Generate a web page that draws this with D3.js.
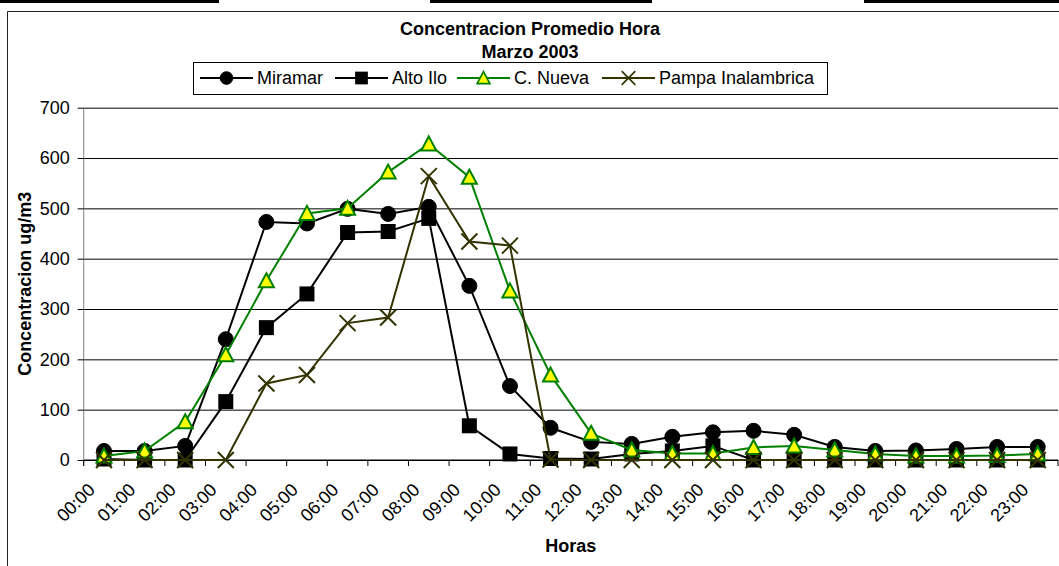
<!DOCTYPE html>
<html>
<head>
<meta charset="utf-8">
<script src="https://cdn.jsdelivr.net/npm/d3@7"></script>
<style>
  html, body { margin: 0; padding: 0; background: #fff; }
  svg { display: block; font-family: "Liberation Sans", Arial, sans-serif; }
</style>
</head>
<body>
<svg id="chart" width="1059" height="566"></svg>
<script>
// Hourly concentration values
const hours = ['00:00','01:00','02:00','03:00','04:00','05:00','06:00','07:00','08:00','09:00','10:00','11:00',
               '12:00','13:00','14:00','15:00','16:00','17:00','18:00','19:00','20:00','21:00','22:00','23:00'];
const miramar = [18, 18, 28, 240, 473, 470, 499, 489, 503, 346, 147, 64, 36, 32, 46, 55, 58, 50, 26, 18, 19, 22, 26, 26];
const altoIlo = [2, 0, 0, 116, 263, 330, 452, 454, 480, 68, 12, 3, 2, 12, 18, 28, 0, 0, 0, 0, 0, 0, 0, 0];
const cNueva = [8, 18, 76, 209, 356, 490, 500, 572, 628, 562, 336, 169, 53, 20, 13, 13, 25, 28, 20, 12, 8, 8, 9, 12];
const pampa = [0, 0, 0, 0, 152, 169, 272, 283, 564, 434, 426, 1, 0, 0, 0, 0, 0, 0, 0, 0, 0, 0, 0, 0];
const yTicks = [0, 100, 200, 300, 400, 500, 600, 700];
const seriesNames = ['Miramar', 'Alto Ilo', 'C. Nueva', 'Pampa Inalambrica'];

const series = [
  { name: seriesNames[0], values: miramar, color: '#000000', marker: 'circle' },
  { name: seriesNames[1], values: altoIlo, color: '#000000', marker: 'square' },
  { name: seriesNames[2], values: cNueva, color: '#008000', marker: 'triangle' },
  { name: seriesNames[3], values: pampa, color: '#333300', marker: 'cross' }
];

const svg = d3.select('#chart');
const plotLeft = 83.7, plotRight = 1058, plotTop = 107.7, plotBottom = 460;

// page decorations: bars at the very top and the chart frame
[[0, 219], [430, 652], [864, 1059]].forEach(([a, b]) => {
  svg.append('rect').attr('x', a).attr('y', 0).attr('width', b - a).attr('height', 3).attr('fill', '#000');
});
svg.append('path')
  .attr('d', 'M7.5,566V11.5H1059')
  .attr('fill', 'none')
  .attr('stroke', '#222')
  .attr('stroke-width', 1);

const x = d3.scaleBand().domain(hours).range([plotLeft, plotRight]);
const y = d3.scaleLinear().domain([0, 700]).range([plotBottom, plotTop]);
const cx = h => x(h) + x.bandwidth() / 2;

// gridlines
svg.append('g')
  .attr('transform', `translate(${plotLeft},0)`)
  .call(d3.axisLeft(y).tickValues(yTicks).tickSize(-(plotRight - plotLeft)).tickFormat(''))
  .call(g => g.select('.domain').remove())
  .call(g => g.selectAll('line').attr('stroke', '#000').attr('stroke-width', 1));

// y axis
const yAxis = svg.append('g')
  .attr('transform', `translate(${plotLeft},0)`)
  .call(d3.axisLeft(y).tickValues(yTicks).tickSize(6).tickPadding(8))
  .call(g => g.select('.domain').attr('stroke', '#808080').attr('d', `M0,${plotTop}V${plotBottom + 6}`));
yAxis.selectAll('.tick line').attr('stroke', '#000');
yAxis.selectAll('.tick text')
  .attr('font-size', 18)
  .attr('font-family', '"Liberation Sans", Arial, sans-serif')
  .attr('fill', '#000');

// x axis line, boundary ticks and rotated labels
svg.append('line')
  .attr('x1', plotLeft).attr('x2', plotRight).attr('y1', plotBottom).attr('y2', plotBottom)
  .attr('stroke', '#000');
svg.append('g').selectAll('line')
  .data(hours.concat(['end']))
  .enter().append('line')
  .attr('x1', d => d === 'end' ? plotRight : x(d))
  .attr('x2', d => d === 'end' ? plotRight : x(d))
  .attr('y1', plotBottom).attr('y2', plotBottom + 6)
  .attr('stroke', '#000');
svg.append('g').selectAll('text')
  .data(hours)
  .enter().append('text')
  .attr('transform', d => `translate(${cx(d) - 8},${plotBottom + 31}) rotate(-45)`)
  .attr('text-anchor', 'end')
  .attr('font-size', 18)
  .attr('fill', '#000')
  .text(d => d);

// markers
function drawMarker(sel, type, color) {
  if (type === 'circle') {
    sel.append('circle').attr('r', 7.5).attr('fill', '#000').attr('stroke', '#000');
  } else if (type === 'square') {
    sel.append('rect').attr('x', -7.5).attr('y', -7.5).attr('width', 15).attr('height', 15).attr('fill', '#000');
  } else if (type === 'triangle') {
    sel.append('path').attr('d', 'M0,-7.5L7.5,6.5L-7.5,6.5Z')
      .attr('fill', '#ffff00').attr('stroke', color).attr('stroke-width', 2);
  } else {
    sel.append('path').attr('d', 'M-8,-8L8,8M-8,8L8,-8')
      .attr('stroke', color).attr('stroke-width', 2).attr('fill', 'none');
  }
}

const line = d3.line().x((d, i) => cx(hours[i])).y(d => y(d));
series.forEach(s => {
  const g = svg.append('g');
  g.append('path')
    .attr('d', line(s.values))
    .attr('fill', 'none')
    .attr('stroke', s.color)
    .attr('stroke-width', 2);
  g.selectAll('.m')
    .data(s.values)
    .enter().append('g')
    .attr('transform', (d, i) => `translate(${cx(hours[i])},${y(d)})`)
    .each(function() { drawMarker(d3.select(this), s.marker, s.color); });
});

// titles
svg.append('text').attr('x', 530).attr('y', 35).attr('text-anchor', 'middle')
  .attr('font-size', 18).attr('font-weight', 'bold').text('Concentracion Promedio Hora');
svg.append('text').attr('x', 530).attr('y', 58).attr('text-anchor', 'middle')
  .attr('font-size', 18).attr('font-weight', 'bold').text('Marzo 2003');
svg.append('text')
  .attr('transform', `translate(31,${(plotTop + plotBottom) / 2}) rotate(-90)`)
  .attr('text-anchor', 'middle')
  .attr('font-size', 18).attr('font-weight', 'bold').text('Concentracion ug/m3');
svg.append('text').attr('x', (plotLeft + plotRight) / 2).attr('y', 552).attr('text-anchor', 'middle')
  .attr('font-size', 18).attr('font-weight', 'bold').text('Horas');

// legend
const legend = svg.append('g');
legend.append('rect')
  .attr('x', 193.5).attr('y', 62.5).attr('width', 634).attr('height', 32)
  .attr('fill', '#fff').attr('stroke', '#000');
const legendX = [200, 335, 457, 602];
series.forEach((s, i) => {
  const item = legend.append('g').attr('transform', `translate(${legendX[i]},78)`);
  item.append('line').attr('x1', 0).attr('x2', 53).attr('y1', 0).attr('y2', 0)
    .attr('stroke', s.color).attr('stroke-width', 2);
  const m = item.append('g').attr('transform', 'translate(26.5,0) scale(0.85)');
  drawMarker(m, s.marker, s.color);
  item.append('text').attr('x', 57).attr('y', 5.5).attr('font-size', 18).text(s.name);
});
</script>
</body>
</html>
